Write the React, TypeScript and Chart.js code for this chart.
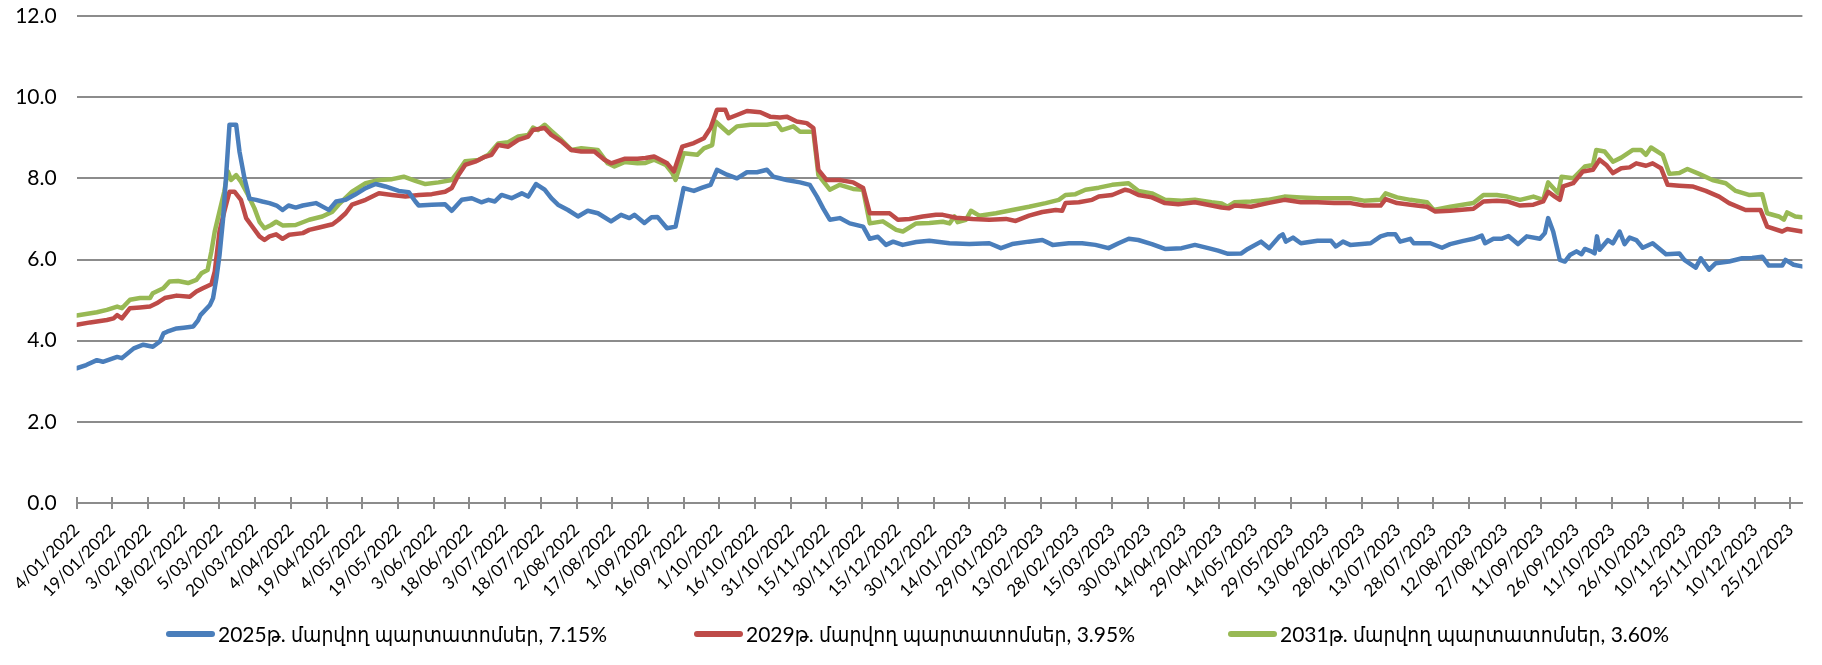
import React, { useEffect, useRef } from "react";
import { Chart, registerables } from "chart.js";

Chart.register(...registerables);

// ---- Data (x = days since 4/01/2022) ----
const seriesNames = [
  "2025թ. մարվող պարտատոմսեր, 7.15%",
  "2029թ. մարվող պարտատոմսեր, 3.95%",
  "2031թ. մարվող պարտատոմսեր, 3.60%",
];

const xTickLabels = [
  "4/01/2022", "19/01/2022", "3/02/2022", "18/02/2022", "5/03/2022", "20/03/2022", "4/04/2022",
  "19/04/2022", "4/05/2022", "19/05/2022", "3/06/2022", "18/06/2022", "3/07/2022", "18/07/2022",
  "2/08/2022", "17/08/2022", "1/09/2022", "16/09/2022", "1/10/2022", "16/10/2022", "31/10/2022",
  "15/11/2022", "30/11/2022", "15/12/2022", "30/12/2022", "14/01/2023", "29/01/2023", "13/02/2023",
  "28/02/2023", "15/03/2023", "30/03/2023", "14/04/2023", "29/04/2023", "14/05/2023", "29/05/2023",
  "13/06/2023", "28/06/2023", "13/07/2023", "28/07/2023", "12/08/2023", "27/08/2023", "11/09/2023",
  "26/09/2023", "11/10/2023", "26/10/2023", "10/11/2023", "25/11/2023", "10/12/2023", "25/12/2023",
];

const days2025 = [
  0, 4, 8.5, 11, 17, 19, 24, 28, 32, 35, 36.5, 38, 42, 45, 49, 51, 52, 56, 57.3, 58.7, 60, 61.5, 62.8,
  64.2, 67, 68.4, 70.5, 72.6, 75.4, 78, 81, 84, 86.5, 89, 92, 95, 100.5, 104.7, 106, 109, 113, 117,
  121.4, 125.6, 129.7, 135.3, 139.5, 142.3, 143.7, 149.2, 154.8, 157.6, 161.8, 166, 170, 173, 175.7,
  178.5, 182.7, 187, 189.7, 193, 196.6, 199.4, 202.2, 206.4, 210.6, 214.7, 219, 224.5, 228.7, 232.2,
  234.3, 238.5, 241.5, 244, 248, 251.6, 255, 259.3, 262.8, 266.3, 269, 273.2, 277.4, 281.6, 285.8,
  290, 292.7, 298.3, 303.9, 308, 311, 313.6, 316.4, 320.6, 324.8, 330.4, 333.2, 336.6, 340, 343, 347,
  352.7, 358.2, 366.7, 375, 383.4, 388.3, 393, 400, 405.7, 410, 416.8, 422.4, 428, 433.5, 437.7, 442,
  446, 451.7, 457.2, 464.2, 469.8, 475.4, 479.5, 483.7, 489.3, 492, 497.6, 501, 505.3, 506.7, 508, 511,
  514.3, 521.3, 527, 529, 532, 535, 543.6, 547.8, 550.6, 554, 556, 560.3, 561.7, 568.7, 573.6, 577,
  582.6, 586.8, 590.3, 591.7, 595.2, 598.6, 601.5, 605.5, 609.2, 614.7, 616.8, 618.2, 620.3, 623.1,
  625.2, 627.3, 630.1, 632.2, 633.6, 636.3, 637.7, 638.7, 639.8, 643.3, 645.4, 648.2, 650.3, 652.4,
  655.2, 657.9, 662.1, 667.7, 673.3, 675.4, 680.2, 682.3, 685.8, 688.6, 694.2, 699.7, 703.9, 708.1,
  710.9, 716.5, 717.9, 721.3, 724.8,
];
const values2025 = [
  3.32, 3.4, 3.52, 3.48, 3.6, 3.57, 3.81, 3.9, 3.85, 3.98, 4.18, 4.22, 4.3, 4.32, 4.35, 4.5, 4.63, 4.88,
  5.05, 5.54, 6.1, 7.0, 8.08, 9.32, 9.32, 8.66, 8.0, 7.5, 7.47, 7.43, 7.39, 7.33, 7.22, 7.33, 7.28, 7.33,
  7.39, 7.26, 7.22, 7.43, 7.47, 7.6, 7.76, 7.86, 7.8, 7.69, 7.66, 7.43, 7.33, 7.35, 7.36, 7.2, 7.47,
  7.51, 7.41, 7.47, 7.43, 7.59, 7.51, 7.63, 7.55, 7.86, 7.72, 7.51, 7.35, 7.22, 7.06, 7.2, 7.14, 6.94,
  7.1, 7.02, 7.1, 6.9, 7.04, 7.05, 6.77, 6.81, 7.76, 7.69, 7.77, 7.84, 8.21, 8.09, 8.0, 8.15, 8.15,
  8.21, 8.04, 7.96, 7.9, 7.84, 7.55, 7.26, 6.98, 7.02, 6.89, 6.81, 6.51, 6.56, 6.36, 6.44, 6.36, 6.43,
  6.46, 6.4, 6.38, 6.4, 6.28, 6.38, 6.44, 6.48, 6.36, 6.4, 6.4, 6.36, 6.28, 6.4, 6.51, 6.48, 6.38, 6.26,
  6.28, 6.36, 6.28, 6.22, 6.14, 6.15, 6.26, 6.44, 6.28, 6.57, 6.62, 6.44, 6.54, 6.4, 6.46, 6.46, 6.32,
  6.44, 6.36, 6.4, 6.57, 6.62, 6.62, 6.44, 6.51, 6.4, 6.4, 6.29, 6.38, 6.46, 6.51, 6.59, 6.4, 6.51,
  6.51, 6.58, 6.38, 6.57, 6.51, 6.65, 7.02, 6.69, 5.99, 5.95, 6.11, 6.2, 6.13, 6.26, 6.2, 6.15, 6.57,
  6.24, 6.48, 6.4, 6.69, 6.38, 6.54, 6.48, 6.29, 6.4, 6.13, 6.15, 5.99, 5.8, 6.03, 5.75, 5.91, 5.95,
  6.03, 6.04, 6.07, 5.85, 5.85, 5.99, 5.87, 5.83,
];

const days2029 = [
  0, 5.7, 12.7, 15.5, 17, 19, 22.4, 26.6, 30.8, 33.6, 37, 42, 47.5, 50.3, 53, 56.6, 58, 60, 62, 64.2,
  66.3, 69, 71.2, 73.3, 76.8, 78.9, 81, 83.8, 86.5, 89.3, 95, 97.7, 101.9, 107.5, 110, 113, 115.7, 121.4,
  127, 132.5, 138.1, 143.7, 149.2, 154.8, 157.6, 160.4, 163.2, 167.4, 171.5, 174.3, 177.1, 181.3, 185.5,
  189.7, 191.7, 196.6, 199.4, 203.6, 207.8, 212, 217.5, 221.7, 224.5, 230.1, 235.6, 239, 242.6, 248.1,
  250.9, 254.4, 259.3, 263.5, 266.3, 269, 272.5, 273.9, 277.4, 281.6, 287.2, 291.3, 295.5, 298.3, 302.5,
  306.7, 309.5, 311.6, 315, 320.6, 326.2, 330.4, 333.2, 337.3, 341.5, 345, 349.9, 355.4, 361, 363.9,
  369.4, 376.4, 383.4, 390.4, 394.5, 400.1, 405.7, 411.3, 414, 415.4, 421, 426.6, 429.4, 435, 440.5,
  442.6, 446.1, 451.7, 457.2, 462.8, 469.8, 476.8, 481, 484, 486.5, 493.4, 500.4, 507.4, 514.3, 521.3,
  528.3, 535.2, 540.8, 547.8, 549.9, 554.7, 560.3, 567.3, 570.8, 577.1, 586.8, 591, 596.6, 601, 606.4,
  612, 616.1, 618.2, 621, 623.1, 624.5, 628.7, 632.8, 637, 639.8, 642.6, 645.4, 648.9, 652.4, 655.2,
  659.3, 662.1, 665.6, 668.4, 673.3, 678.8, 684.4, 690, 694.2, 701.1, 707.4, 710.2, 716.5, 718.6, 724.8,
];
const values2029 = [
  4.39, 4.45, 4.51, 4.55, 4.63, 4.55, 4.8, 4.82, 4.84, 4.92, 5.05, 5.11, 5.08, 5.21, 5.29, 5.39, 5.7,
  6.69, 7.18, 7.67, 7.67, 7.47, 7.02, 6.85, 6.57, 6.48, 6.57, 6.62, 6.51, 6.61, 6.65, 6.73, 6.79, 6.87,
  6.98, 7.14, 7.35, 7.47, 7.63, 7.59, 7.55, 7.59, 7.61, 7.67, 7.76, 8.08, 8.33, 8.41, 8.53, 8.58, 8.82,
  8.78, 8.95, 9.03, 9.19, 9.24, 9.07, 8.91, 8.7, 8.66, 8.66, 8.46, 8.37, 8.48, 8.48, 8.5, 8.54, 8.37,
  8.17, 8.78, 8.87, 8.99, 9.24, 9.69, 9.69, 9.48, 9.56, 9.66, 9.63, 9.52, 9.5, 9.52, 9.4, 9.36, 9.24,
  8.21, 7.96, 7.96, 7.9, 7.76, 7.14, 7.14, 7.14, 6.98, 7.0, 7.06, 7.1, 7.1, 7.03, 7.0, 6.98, 7.0, 6.95,
  7.08, 7.17, 7.22, 7.2, 7.39, 7.41, 7.47, 7.55, 7.59, 7.72, 7.69, 7.59, 7.53, 7.39, 7.36, 7.41, 7.33,
  7.28, 7.26, 7.33, 7.3, 7.39, 7.47, 7.41, 7.41, 7.39, 7.39, 7.33, 7.33, 7.49, 7.39, 7.35, 7.3, 7.18,
  7.2, 7.25, 7.43, 7.45, 7.43, 7.33, 7.35, 7.43, 7.67, 7.55, 7.47, 7.8, 7.88, 8.17, 8.21, 8.46, 8.33,
  8.13, 8.25, 8.27, 8.37, 8.31, 8.37, 8.25, 7.84, 7.82, 7.8, 7.69, 7.55, 7.39, 7.22, 7.22, 6.81, 6.69,
  6.75, 6.69,
];

const days2031 = [
  0, 8.5, 12.7, 17, 19, 22.4, 26.6, 30.8, 32, 36.4, 39, 42.6, 46.8, 50.3, 52.4, 55, 56.6, 58, 60, 62,
  63.5, 64.9, 67, 69, 72, 74.7, 76.8, 78.9, 81.7, 83.8, 86.5, 92, 97.7, 103.2, 107.5, 110, 115.7, 121.4,
  127, 132.5, 137.4, 142.3, 146.5, 152, 157.6, 160.4, 163.2, 168.8, 173, 177.1, 181.3, 185.5, 189.7,
  191.7, 193.8, 196.6, 199.4, 203.6, 207.8, 212, 218.9, 223.1, 225.9, 230.1, 235.6, 239, 242.6, 247.5,
  250.2, 251.6, 255.1, 260.7, 263.5, 267, 268.4, 273.9, 277.4, 283, 290, 294.1, 296.2, 301.1, 303.9,
  309.5, 311.6, 316.4, 320.6, 326.2, 330.4, 333.2, 338.7, 344.3, 347.1, 352.7, 358.2, 363.9, 366.7,
  368.8, 370.1, 373.6, 375.7, 379.2, 386.2, 393.1, 400.1, 407.1, 412.6, 415.4, 419.6, 423.8, 429.4, 435,
  441.9, 446.1, 451.7, 457.2, 464.2, 469.8, 476.8, 481, 483.5, 486.5, 493.4, 500.4, 507.4, 514.3, 521.3,
  535.2, 540.8, 547.8, 549.9, 554.7, 560.3, 567.3, 570.1, 577.1, 586.8, 591, 596.6, 601, 606.4, 612,
  616.1, 618.2, 622.4, 623.8, 628.7, 633.6, 637, 638.4, 641.9, 645.4, 648.9, 653.8, 657.2, 659.3, 661.4,
  666.3, 669.1, 673.3, 676.7, 681.6, 687.2, 692.8, 697, 702.5, 708.1, 710.2, 715.1, 717.2, 718.6, 722,
  724.8,
];
const values2031 = [
  4.62, 4.7, 4.76, 4.84, 4.8, 5.01, 5.05, 5.05, 5.17, 5.29, 5.46, 5.47, 5.42, 5.5, 5.66, 5.74, 6.2, 6.69,
  7.18, 7.67, 8.17, 7.96, 8.08, 7.92, 7.59, 7.26, 6.93, 6.77, 6.85, 6.93, 6.84, 6.85, 6.98, 7.06, 7.18,
  7.35, 7.67, 7.88, 7.96, 7.98, 8.04, 7.94, 7.86, 7.9, 7.96, 8.18, 8.42, 8.45, 8.58, 8.86, 8.89, 9.03,
  9.07, 9.25, 9.19, 9.32, 9.17, 8.95, 8.7, 8.74, 8.7, 8.37, 8.29, 8.4, 8.37, 8.38, 8.46, 8.33, 8.13,
  7.96, 8.62, 8.58, 8.74, 8.82, 9.4, 9.11, 9.28, 9.32, 9.32, 9.36, 9.19, 9.28, 9.15, 9.15, 8.08, 7.72,
  7.84, 7.74, 7.72, 6.89, 6.94, 6.73, 6.69, 6.89, 6.9, 6.93, 6.89, 7.06, 6.92, 6.98, 7.2, 7.08, 7.14,
  7.22, 7.3, 7.39, 7.47, 7.59, 7.61, 7.72, 7.77, 7.84, 7.88, 7.69, 7.63, 7.47, 7.45, 7.47, 7.41, 7.38,
  7.3, 7.41, 7.43, 7.47, 7.55, 7.53, 7.51, 7.51, 7.45, 7.47, 7.63, 7.53, 7.47, 7.41, 7.22, 7.3, 7.39,
  7.59, 7.59, 7.55, 7.47, 7.55, 7.47, 7.9, 7.63, 8.04, 8.0, 8.29, 8.33, 8.7, 8.66, 8.41, 8.51, 8.7,
  8.7, 8.58, 8.76, 8.58, 8.11, 8.13, 8.23, 8.11, 7.96, 7.88, 7.69, 7.59, 7.61, 7.14, 7.06, 6.98, 7.16,
  7.06, 7.04,
];

const yTickValues = [0, 2, 4, 6, 8, 10, 12];

// ---- Styles ----
const COLORS = ["#4A7EBB", "#BE4B48", "#98B954"];
const GRID = "#8c8c8c";
const FONT = 'Lato, "DejaVu Sans Condensed", "DejaVu Sans", sans-serif';
const LEGEND_LEFT = [166, 694, 1228];

const toPoints = (xs: number[], ys: number[]) => xs.map((x, i) => ({ x, y: ys[i] }));

const crossTicks = {
  id: "crossTicks",
  beforeDatasetsDraw(chart: any) {
    const xs = chart.scales.x;
    const ctx = chart.ctx;
    const y0 = chart.chartArea.bottom;
    ctx.save();
    ctx.strokeStyle = GRID;
    ctx.lineWidth = 2;
    xs.ticks.forEach((t: any) => {
      const px = Math.round(xs.getPixelForValue(t.value));
      ctx.beginPath();
      ctx.moveTo(px, y0 - 6);
      ctx.lineTo(px, y0 + 6);
      ctx.stroke();
    });
    ctx.restore();
  },
};

export default function App() {
  const ref = useRef<HTMLCanvasElement | null>(null);

  useEffect(() => {
    if (!ref.current) return;
    const series = [
      toPoints(days2025, values2025),
      toPoints(days2029, values2029),
      toPoints(days2031, values2031),
    ];
    const chart = new Chart(ref.current, {
      type: "line",
      data: {
        datasets: series.map((pts, i) => ({
          label: seriesNames[i],
          data: pts,
          borderColor: COLORS[i],
          backgroundColor: COLORS[i],
          borderWidth: 4.5,
          pointRadius: 0,
          tension: 0,
          fill: false,
          borderJoinStyle: "round" as const,
          borderCapStyle: "round" as const,
        })),
      },
      options: {
        animation: false,
        responsive: false,
        devicePixelRatio: 1,
        layout: { padding: { left: 0, right: 15, top: 16, bottom: 0 } },
        plugins: {
          tooltip: { enabled: false },
          legend: { display: false },
        },
        scales: {
          x: {
            type: "linear",
            min: 0,
            max: 725,
            afterFit: (s: any) => {
              s.height = 162;
            },
            afterBuildTicks: (s: any) => {
              s.ticks = xTickLabels.map((_, i) => ({ value: i * 15 }));
            },
            grid: { display: false, drawTicks: false },
            border: { display: true, color: GRID, width: 2 },
            ticks: {
              autoSkip: false,
              maxRotation: 45,
              minRotation: 45,
              padding: 17,
              color: "#000",
              font: { family: FONT, size: 17 },
              callback: (v: any) => xTickLabels[Math.round(Number(v) / 15)] ?? "",
            },
          },
          y: {
            min: 0,
            max: 12,
            afterFit: (s: any) => {
              s.width = 73;
            },
            afterBuildTicks: (s: any) => {
              s.ticks = yTickValues.map((v) => ({ value: v }));
            },
            grid: { color: GRID, lineWidth: 2, drawTicks: true, tickLength: 18, tickColor: "rgba(0,0,0,0)" },
            border: { display: false },
            ticks: {
              padding: 2,
              color: "#000",
              font: { family: FONT, size: 21 },
              callback: (v: any) => Number(v).toFixed(1),
            },
          },
        },
      },
      plugins: [crossTicks],
    });
    return () => chart.destroy();
  }, []);

  return (
    <div style={{ position: "absolute", left: 0, top: 0, width: 1822, height: 665, background: "#fff" }}>
      <canvas ref={ref} width={1822} height={665} style={{ display: "block" }} />
      {seriesNames.map((name, i) => (
        <div
          key={name}
          style={{
            position: "absolute",
            left: LEGEND_LEFT[i],
            top: 619,
            height: 30,
            display: "flex",
            alignItems: "center",
            whiteSpace: "nowrap",
            fontFamily: FONT,
            fontSize: 21,
            color: "#000",
          }}
        >
          <span
            style={{
              display: "inline-block",
              width: 49,
              height: 6,
              borderRadius: 3,
              background: COLORS[i],
              marginRight: 3,
            }}
          />
          <span>{name}</span>
        </div>
      ))}
    </div>
  );
}
